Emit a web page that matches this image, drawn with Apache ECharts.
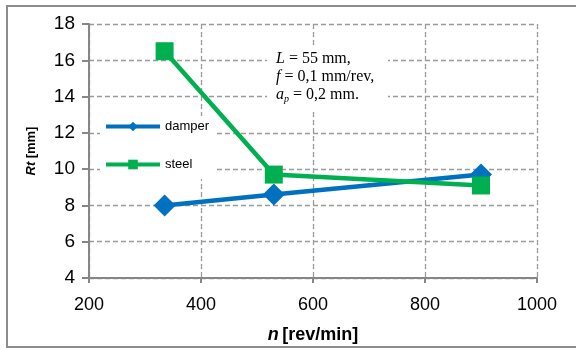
<!DOCTYPE html>
<html>
<head>
<meta charset="utf-8">
<script src="https://cdn.jsdelivr.net/npm/echarts@6/dist/echarts.min.js"></script>
<style>
  html, body { margin: 0; padding: 0; background: #fff; }
  #main { width: 576px; height: 350px; }
</style>
</head>
<body>
<div id="main"></div>
<script>
// spindle speed n [rev/min]
const speeds = [335, 530, 900];
// Rt [mm]
const damper = [8.0, 8.6, 9.7];
const steel = [16.5, 9.7, 9.1];

const xTicks = { min: 200, max: 1000, interval: 200 };
const yTicks = { min: 4, max: 18, interval: 2 };

const axisFont = "'Liberation Sans', Arial, sans-serif";
const serif = "'Liberation Serif', 'Times New Roman', serif";

const toPairs = (xs, ys) => xs.map((x, i) => [x, ys[i]]);

let myChart = echarts.init(document.getElementById("main"));
let option = {
  animation: false,
  backgroundColor: "#fff",
  grid: {
    left: 89,
    right: 39,
    top: 24,
    bottom: 72
  },
  legend: {
    orient: "vertical",
    left: 100,
    top: 116,
    itemGap: 25,
    itemWidth: 54,
    itemHeight: 12,
    padding: [4, 6, 8, 4],
    backgroundColor: "#fff",
    lineStyle: { width: 4 },
    textStyle: { fontFamily: axisFont, fontSize: 13, color: "#000" },
    data: ["damper", "steel"]
  },
  xAxis: {
    type: "value",
    min: xTicks.min,
    max: xTicks.max,
    interval: xTicks.interval,
    name: "{i|n} {b|[rev/min]}",
    nameLocation: "middle",
    nameGap: 48,
    nameTextStyle: {
      rich: {
        i: { fontFamily: axisFont, fontSize: 18, fontWeight: "bold", fontStyle: "italic", color: "#000" },
        b: { fontFamily: axisFont, fontSize: 18, fontWeight: "bold", color: "#000" }
      }
    },
    axisLine: { show: true, lineStyle: { color: "#868686", width: 2 } },
    axisTick: { show: true, inside: false, length: 5, lineStyle: { color: "#868686", width: 2 } },
    axisLabel: { fontFamily: axisFont, fontSize: 18, color: "#000", margin: 18, formatter: v => String(v) },
    splitLine: { show: true, lineStyle: { color: "#9a9a9a", type: [5, 3], width: 1.3 } }
  },
  yAxis: {
    type: "value",
    min: yTicks.min,
    max: yTicks.max,
    interval: yTicks.interval,
    name: "{i|Rt} {b|[mm]}",
    nameLocation: "middle",
    nameGap: 51,
    nameRotate: 90,
    nameTextStyle: {
      rich: {
        i: { fontFamily: axisFont, fontSize: 13, fontWeight: "bold", fontStyle: "italic", color: "#000" },
        b: { fontFamily: axisFont, fontSize: 13, fontWeight: "bold", color: "#000" }
      }
    },
    axisLine: { show: true, lineStyle: { color: "#868686", width: 2 } },
    axisTick: { show: true, inside: false, length: 7, lineStyle: { color: "#868686", width: 2 } },
    axisLabel: { fontFamily: axisFont, fontSize: 19, color: "#000", margin: 14 },
    splitLine: { show: true, lineStyle: { color: "#9a9a9a", type: [5, 3], width: 1.3 } }
  },
  graphic: [
    {
      type: "rect",
      shape: { x: 7, y: 6, width: 590, height: 341 },
      style: { fill: "none", stroke: "#8c8c8c", lineWidth: 2 },
      silent: true,
      z: 0
    },
    {
      type: "rect",
      shape: { x: 267, y: 47, width: 121, height: 64 },
      style: { fill: "#fff" },
      z: 50
    },
    {
      type: "text",
      x: 276,
      y: 50,
      z: 51,
      style: {
        text: "{i|L} = 55 mm,\n{i|f} = 0,1 mm/rev,\n{i|a}{s|p} = 0,2 mm.",
        fontFamily: serif,
        fontSize: 16,
        lineHeight: 18,
        fill: "#000",
        rich: {
          i: { fontFamily: serif, fontSize: 16, fontStyle: "italic", fill: "#000", lineHeight: 18 },
          s: { fontFamily: serif, fontSize: 10, fontStyle: "italic", fill: "#000", padding: [8, 0, 0, 0], lineHeight: 18 }
        }
      }
    }
  ],
  series: [
    {
      name: "damper",
      type: "line",
      data: toPairs(speeds, damper),
      symbol: "diamond",
      symbolSize: 22,
      color: "#0070C0",
      lineStyle: { width: 4.5, color: "#0070C0" },
      itemStyle: { color: "#0070C0" },
      z: 3
    },
    {
      name: "steel",
      type: "line",
      data: toPairs(speeds, steel),
      symbol: "rect",
      symbolSize: 18,
      color: "#00B050",
      lineStyle: { width: 4.5, color: "#00B050" },
      itemStyle: { color: "#00B050" },
      z: 4
    }
  ]
};
myChart.setOption(option);
</script>
</body>
</html>
